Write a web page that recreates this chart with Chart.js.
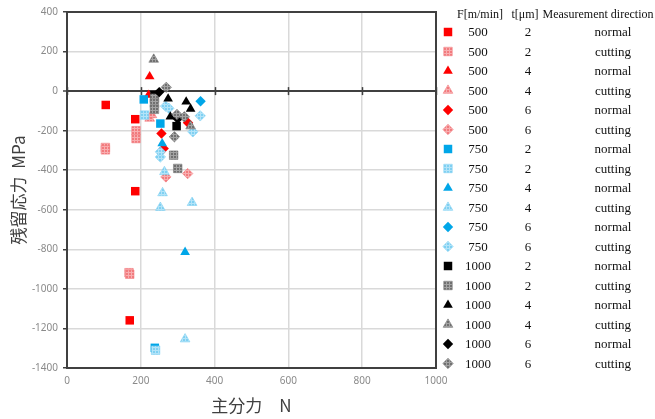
<!DOCTYPE html>
<html lang="ja">
<head>
<meta charset="UTF-8">
<title>残留応力と主分力</title>
<script src="https://cdn.jsdelivr.net/npm/chart.js"></script>
<style>
  html, body { margin: 0; padding: 0; background: #fff; }
  #wrap { width: 655px; height: 419px; }
</style>
</head>
<body>
<div id="wrap"><canvas id="stressChart" width="655" height="419"></canvas></div>
<script>
// cutting speed / depth / direction for each series (legend table)
const speeds = ['500', '500', '500', '500', '500', '500',
                '750', '750', '750', '750', '750', '750',
                '1000', '1000', '1000', '1000', '1000', '1000'];
const depths = ['2', '2', '4', '4', '6', '6', '2', '2', '4', '4', '6', '6', '2', '2', '4', '4', '6', '6'];
const directions = ['normal', 'cutting', 'normal', 'cutting', 'normal', 'cutting',
                    'normal', 'cutting', 'normal', 'cutting', 'normal', 'cutting',
                    'normal', 'cutting', 'normal', 'cutting', 'normal', 'cutting'];

// [principal force N, residual stress MPa]
const f500t2n = [[105, -70], [185, -142], [185, -506], [170, -1159]];
const f500t2c = [[104, -285], [104, -297], [187, -200], [187, -240], [168, -918], [170, -926]];
const f500t4n = [[224, 74], [221, -20]];
const f500t4c = [[224, -138], [230, -120]];
const f500t6n = [[328, -160], [256, -214], [262, -290]];
const f500t6c = [[268, -434], [327, -417]];
const f750t2n = [[208, -42], [253, -164], [238, -1298]];
const f750t2c = [[210, -121], [240, -1310]];
const f750t4n = [[320, -814], [258, -265]];
const f750t4c = [[264, -408], [259, -515], [339, -564], [253, -589], [320, -1254]];
const f750t6n = [[362, -51]];
const f750t6c = [[361, -125], [267, -76], [276, -87], [341, -206], [253, -333], [253, -307]];
const f1000t2n = [[297, -177], [237, -20]];
const f1000t2c = [[237, -36], [237, -61], [237, -92], [289, -324], [300, -391]];
const f1000t4n = [[274, -39], [323, -54], [335, -90], [280, -130]];
const f1000t4c = [[235, 160], [335, -177]];
const f1000t6n = [[250, -5], [300, -140]];
const f1000t6c = [[269, 19], [298, -118], [318, -130], [291, -231]];

const xTicks = [0, 200, 400, 600, 800, 1000];
const yTicks = [400, 200, 0, -200, -400, -600, -800, -1000, -1200, -1400];

const seriesData = [f500t2n, f500t2c, f500t4n, f500t4c, f500t6n, f500t6c,
                    f750t2n, f750t2c, f750t4n, f750t4c, f750t6n, f750t6c,
                    f1000t2n, f1000t2c, f1000t4n, f1000t4c, f1000t6n, f1000t6c];

// hatched fill for the "cutting" markers
function hatch(base, line) {
  const c = document.createElement('canvas');
  c.width = 3; c.height = 3;
  const g = c.getContext('2d');
  g.fillStyle = base;
  g.fillRect(0, 0, 3, 3);
  g.fillStyle = line;
  g.fillRect(0, 2, 3, 1);
  g.fillRect(2, 0, 1, 3);
  return g.createPattern(c, 'repeat');
}

const solid = { '500': '#ff0000', '750': '#00a6e8', '1000': '#000000' };
const light = {
  '500': hatch('#f27b7e', '#f8aeb0'),
  '750': hatch('#7fd0f2', '#b4e4f8'),
  '1000': hatch('#707070', '#a4a4a4')
};
const edge = { '500': '#f27b7e', '750': '#7fd0f2', '1000': '#707070' };
const shapes = { '2': 'rect', '4': 'triangle', '6': 'rectRot' };
const sizes = { '2': 6, '4': 5.6, '6': 5.2 };

const datasets = seriesData.map((pts, i) => {
  const cut = directions[i] === 'cutting';
  return {
    label: speeds[i] + ' ' + depths[i] + ' ' + directions[i],
    data: pts.map(p => ({ x: p[0], y: p[1] })),
    pointStyle: shapes[depths[i]],
    pointRadius: sizes[depths[i]],
    backgroundColor: cut ? light[speeds[i]] : solid[speeds[i]],
    borderColor: cut ? edge[speeds[i]] : solid[speeds[i]],
    borderWidth: cut ? 0.6 : 0,
    order: seriesData.length - i
  };
});

// frame, zero axis with its ticks, and the legend table on the right
const decorations = {
  id: 'decorations',
  beforeDatasetsDraw(chart) {
    const { ctx, chartArea: a, scales: { x, y } } = chart;
    const y0 = y.getPixelForValue(0);
    ctx.save();
    ctx.strokeStyle = '#404040';
    ctx.lineWidth = 2;
    ctx.strokeRect(a.left, a.top, a.right - a.left, a.bottom - a.top);
    ctx.lineWidth = 1.5;
    xTicks.forEach(v => {
      const px = Math.round(x.getPixelForValue(v)) + 0.5;
      ctx.beginPath();
      ctx.moveTo(px, y0 - 4);
      ctx.lineTo(px, y0 + 4);
      ctx.stroke();
    });
    ctx.restore();
  },
  afterDraw(chart) {
    const { ctx } = chart;
    const top = 32, step = 19.5;
    ctx.save();
    ctx.fillStyle = '#111';
    ctx.textBaseline = 'middle';
    ctx.textAlign = 'center';
    ctx.font = '12px "Liberation Serif"';
    ctx.fillText('F[m/min]', 480, 15);
    ctx.fillText('t[μm]', 525, 15);
    ctx.fillText('Measurement direction', 598, 15);
    ctx.font = '13px "Liberation Serif"';
    datasets.forEach((ds, i) => {
      const cy = top + i * step;
      ctx.fillStyle = ds.backgroundColor;
      ctx.strokeStyle = ds.borderColor;
      ctx.lineWidth = ds.borderWidth;
      Chart.helpers.drawPoint(ctx, {
        pointStyle: ds.pointStyle,
        radius: ds.pointRadius,
        borderWidth: ds.borderWidth,
        rotation: 0
      }, 448, cy);
      ctx.fillStyle = '#111';
      ctx.fillText(speeds[i], 478, cy + 1);
      ctx.fillText(depths[i], 528, cy + 1);
      ctx.fillText(directions[i], 613, cy + 1);
    });
    ctx.restore();
  }
};

new Chart(document.getElementById('stressChart'), {
  type: 'scatter',
  data: { datasets },
  options: {
    responsive: false,
    animation: false,
    layout: { padding: { left: 0, right: 219, top: 12, bottom: 0 } },
    plugins: { legend: { display: false }, tooltip: { enabled: false } },
    scales: {
      x: {
        min: 0, max: 1000,
        afterBuildTicks: s => { s.ticks = xTicks.map(v => ({ value: v })); },
        afterFit: s => { s.height = 51; },
        grid: { color: '#d9d9d9', lineWidth: 1.5, drawTicks: false },
        border: { display: false },
        ticks: {
          color: '#8a8a8a', font: { family: 'Noto Sans', size: 10 }, padding: 7, maxRotation: 0,
          callback: v => String(v)
        },
        title: {
          display: true, text: '主分力　N', color: '#404040',
          font: { family: 'Noto Sans CJK JP', size: 17 }, padding: { top: 0, bottom: 3 }
        }
      },
      y: {
        min: -1400, max: 400,
        afterBuildTicks: s => { s.ticks = yTicks.map(v => ({ value: v })); },
        afterFit: s => { s.width = 67; },
        grid: {
          color: c => c.tick && c.tick.value === 0 ? '#404040' : '#d9d9d9',
          lineWidth: c => c.tick && c.tick.value === 0 ? 2 : 1.5,
          tickColor: '#404040', tickLength: 4, tickWidth: 1.5
        },
        border: { display: false },
        ticks: {
          color: '#8a8a8a', font: { family: 'Noto Sans', size: 10 }, padding: 5,
          callback: v => String(v)
        },
        title: {
          display: true, text: '残留応力  MPa', color: '#404040',
          font: { family: 'Noto Sans CJK JP', size: 17 }, padding: { top: 8, bottom: 0 }
        }
      }
    }
  },
  plugins: [decorations]
});
</script>
</body>
</html>
